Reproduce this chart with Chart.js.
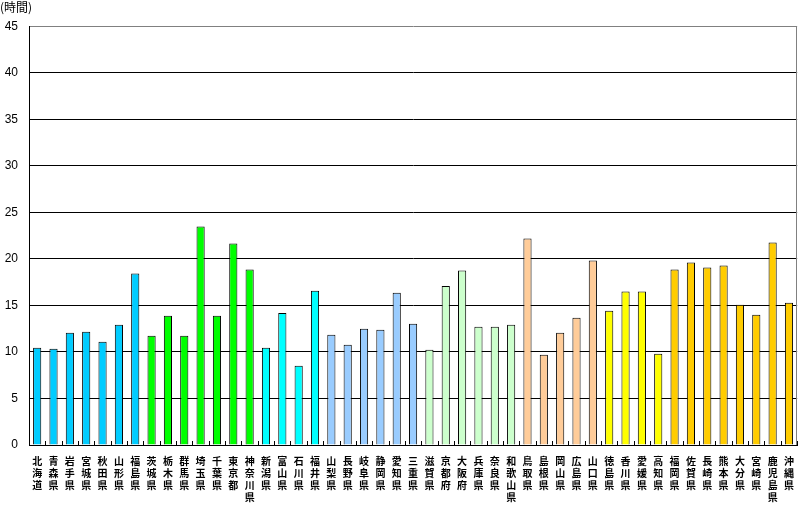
<!DOCTYPE html>
<html><head><meta charset="utf-8">
<script src="https://cdn.jsdelivr.net/npm/chart.js@4/dist/chart.umd.min.js"></script>
<style>html,body{margin:0;padding:0;background:#fff}#wrap{width:804px;height:507px}</style>
</head><body><div id="wrap"><canvas id="c" width="804" height="507"></canvas></div>
<script>
const prefectures = ['北海道','青森県','岩手県','宮城県','秋田県','山形県','福島県','茨城県','栃木県','群馬県','埼玉県','千葉県','東京都','神奈川県','新潟県','富山県','石川県','福井県','山梨県','長野県','岐阜県','静岡県','愛知県','三重県','滋賀県','京都府','大阪府','兵庫県','奈良県','和歌山県','鳥取県','島根県','岡山県','広島県','山口県','徳島県','香川県','愛媛県','高知県','福岡県','佐賀県','長崎県','熊本県','大分県','宮崎県','鹿児島県','沖縄県'];
const hours = [10.45,10.34,12.07,12.18,11.1,12.93,18.43,11.75,13.9,11.75,23.49,13.9,21.66,18.86,10.45,14.18,8.51,16.59,11.85,10.78,12.5,12.39,16.38,13.04,10.24,17.09,18.75,12.72,12.72,12.93,22.2,9.7,12.07,13.69,19.83,14.44,16.49,16.49,9.81,18.86,19.61,19.07,19.29,15.09,14.01,21.77,15.3];
const regions = ['北海道・東北','北海道・東北','北海道・東北','北海道・東北','北海道・東北','北海道・東北','北海道・東北','関東','関東','関東','関東','関東','関東','関東','北陸','北陸','北陸','北陸','中部','中部','中部','中部','中部','中部','近畿','近畿','近畿','近畿','近畿','近畿','中国','中国','中国','中国','中国','四国','四国','四国','四国','九州・沖縄','九州・沖縄','九州・沖縄','九州・沖縄','九州・沖縄','九州・沖縄','九州・沖縄','九州・沖縄'];
const yTicks = [0,5,10,15,20,25,30,35,40,45];
const unitLabel = '(時間)';

const regionColor = {'北海道・東北':'#00CCFF','関東':'#00FF00','北陸':'#00FFFF','中部':'#99CCFF','近畿':'#CCFFCC','中国':'#FFCC99','四国':'#FFFF00','九州・沖縄':'#FFCC00'};

const innerTicks = {
  id:'innerTicks',
  afterDatasetsDraw(chart){
    const {ctx, chartArea:a, scales:{x}} = chart;
    ctx.save();
    ctx.strokeStyle = '#000'; ctx.lineWidth = 1;
    ctx.beginPath();
    for(let i=0;i<=prefectures.length;i++){
      const px = Math.round(x.getPixelForValue(i-0.5))+0.5;
      ctx.moveTo(px, a.bottom); ctx.lineTo(px, a.bottom-4);
    }
    ctx.stroke();
    ctx.strokeStyle = '#808080';
    ctx.beginPath();
    ctx.moveTo(Math.round(a.right)-0.5, a.top); ctx.lineTo(Math.round(a.right)-0.5, a.bottom);
    ctx.stroke();
    ctx.restore();
  }
};

new Chart(document.getElementById('c'), {
  type:'bar',
  data:{
    labels: prefectures.map(p => p.split('')),
    datasets:[{
      data: hours,
      backgroundColor: regions.map(r => regionColor[r]),
      borderColor:'#000', borderWidth:1,
      barPercentage:0.5, categoryPercentage:1
    }]
  },
  plugins:[innerTicks],
  options:{
    responsive:false, animation:false,
    layout:{padding:{left:0,right:2,top:0,bottom:0}},
    plugins:{
      legend:{display:false}, tooltip:{enabled:false},
      title:{display:true, text:unitLabel, align:'start', color:'#000',
        font:{family:"'Noto Sans CJK JP'", size:12, weight:'normal'}, padding:{top:0,bottom:12}}
    },
    scales:{
      x:{
        offset:true,
        grid:{display:false, drawTicks:false},
        border:{display:true, color:'#000', width:1},
        ticks:{autoSkip:false, maxRotation:0, minRotation:0, padding:10, color:'#000',
          font:{family:"'Noto Sans CJK JP'", size:10, weight:'bold', lineHeight:1.2}},
        afterFit(s){ s.height = 62; }
      },
      y:{
        min:0, max:45,
        afterBuildTicks(s){ s.ticks = yTicks.map(v=>({value:v})); },
        grid:{color:ctx => ctx.tick && ctx.tick.value===45 ? '#808080' : '#000', drawTicks:false, lineWidth:1},
        border:{display:true, color:'#000', width:1},
        ticks:{padding:11, color:'#000', font:{family:"'Liberation Sans Narrow','Liberation Sans'", size:12}},
        afterFit(s){ s.width = 29; }
      }
    }
  }
});
</script></body></html>
